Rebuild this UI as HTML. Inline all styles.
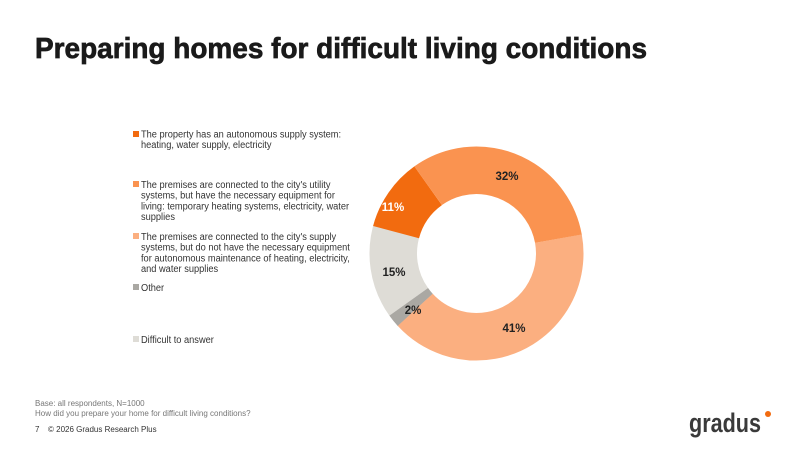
<!DOCTYPE html>
<html><head><meta charset="utf-8"><style>
body{margin:0;background:#fff;}
svg{display:block;font-family:"Liberation Sans",sans-serif;}
</style></head><body>
<svg width="800" height="450" viewBox="0 0 800 450">
<text x="35" y="58" font-size="29" font-weight="bold" fill="#1a1a1a" stroke="#1a1a1a" stroke-width="0.7" textLength="612" lengthAdjust="spacingAndGlyphs">Preparing homes for difficult living conditions</text>
<g fill="#333">
<rect x="133" y="131" width="6" height="6" fill="#f26b0f"/>
<rect x="133" y="181" width="6" height="6" fill="#fa9350"/>
<rect x="133" y="233" width="6" height="6" fill="#fbaf80"/>
<rect x="133" y="284" width="6" height="6" fill="#aaa8a3"/>
<rect x="133" y="336" width="6" height="6" fill="#dedcd6"/>
</g>
<g font-size="10.3" fill="#333" transform="translate(141,0) scale(0.9,1) translate(-141,0)">
<text x="141" y="137.5">The property has an autonomous supply system:</text>
<text x="141" y="148">heating, water supply, electricity</text>
<text x="141" y="188">The premises are connected to the city's utility</text>
<text x="141" y="198.7">systems, but have the necessary equipment for</text>
<text x="141" y="209.4">living: temporary heating systems, electricity, water</text>
<text x="141" y="220">supplies</text>
<text x="141" y="240">The premises are connected to the city's supply</text>
<text x="141" y="250.7">systems, but do not have the necessary equipment</text>
<text x="141" y="261.4">for autonomous maintenance of heating, electricity,</text>
<text x="141" y="272">and water supplies</text>
<text x="141" y="291">Other</text>
<text x="141" y="343">Difficult to answer</text>
</g>
<g fill="none" stroke-width="47.5" transform="translate(476.5,253.5)">
<circle r="83.25" stroke="#dedcd6" stroke-dasharray="79 600" transform="rotate(144.5)"/>
<circle r="83.25" stroke="#aaa8a3" stroke-dasharray="10.5 600" transform="rotate(137.3)"/>
<circle r="83.25" stroke="#fbaf80" stroke-dasharray="214.5 600" transform="rotate(-10.3)"/>
<circle r="83.25" stroke="#fa9350" stroke-dasharray="167.4 600" transform="rotate(234.5)"/>
<circle r="83.25" stroke="#f26b0f" stroke-dasharray="57.5 600" transform="rotate(194.9)"/>
</g>
<g font-size="11.5" font-weight="bold" text-anchor="middle">
<text x="507" y="180" fill="#222">32%</text>
<text x="393" y="211" fill="#fff">11%</text>
<text x="394" y="276" fill="#222">15%</text>
<text x="413" y="314" fill="#222">2%</text>
<text x="514" y="332" fill="#222">41%</text>
</g>
<g font-size="8" fill="#777">
<text x="35" y="406">Base: all respondents, N=1000</text>
<text x="35" y="416">How did you prepare your home for difficult living conditions?</text>
</g>
<text x="35" y="432" font-size="8" fill="#333">7</text>
<text x="48" y="432" font-size="8" fill="#333">© 2026 Gradus Research Plus</text>
<text x="689" y="432" font-size="27" font-weight="bold" fill="#3a3a3a" textLength="72" lengthAdjust="spacingAndGlyphs">gradus</text>
<circle cx="768" cy="414" r="3" fill="#f26b0f"/>
</svg>
</body></html>
